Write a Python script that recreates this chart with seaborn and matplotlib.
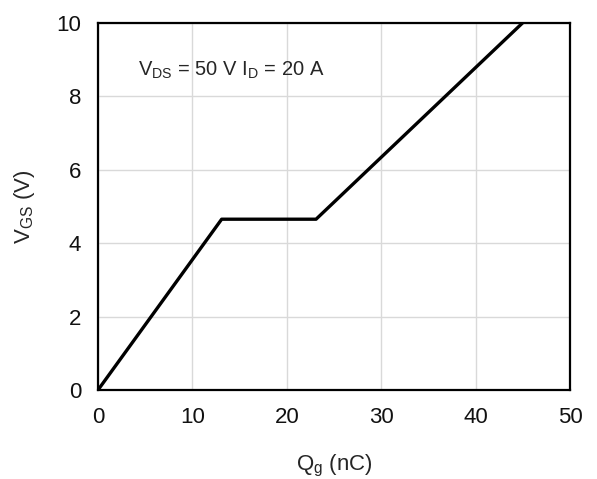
import matplotlib
matplotlib.use("Agg")
import matplotlib.pyplot as plt
import seaborn as sns
import pandas as pd

qg = [0, 13.1, 23.1, 45]
vgs = [0, 4.65, 4.65, 10]
x_ticks = [0, 10, 20, 30, 40, 50]
y_ticks = [0, 2, 4, 6, 8, 10]

sns.set_style("white")
plt.rcParams['font.family'] = ['Liberation Sans', 'DejaVu Sans']

df = pd.DataFrame({"Qg": qg, "VGS": vgs})

fig = plt.figure(figsize=(5.97, 4.79), dpi=100)
ax = fig.add_axes([98/597, 1-390/479, (570-98)/597, (390-22.7)/479])
sns.lineplot(data=df, x="Qg", y="VGS", ax=ax, color="black", linewidth=2.4, sort=False)

ax.set_xlim(0, 50)
ax.set_ylim(0, 10)
ax.set_xticks(x_ticks)
ax.set_yticks(y_ticks)
ax.tick_params(labelsize=16, length=0, colors="#111111")
ax.tick_params(axis="x", pad=12)
ax.tick_params(axis="y", pad=12)
ax.grid(True, color="#d9d9d9", linewidth=1)
for s in ax.spines.values():
    s.set_visible(True)
    s.set_color("black")
    s.set_linewidth(1.6)

ax.set_xlabel(r"Q$_\mathregular{g}$ (nC)", fontsize=16, labelpad=18)
ax.set_ylabel(r"V$_\mathregular{GS}$ (V)", fontsize=16, labelpad=14)
ax.text(4.2, 8.7, r"V$_\mathregular{DS}$ = 50 V I$_\mathregular{D}$ = 20 A", fontsize=14.5, ha="left", va="center")

fig.savefig("out.png", dpi=100)
